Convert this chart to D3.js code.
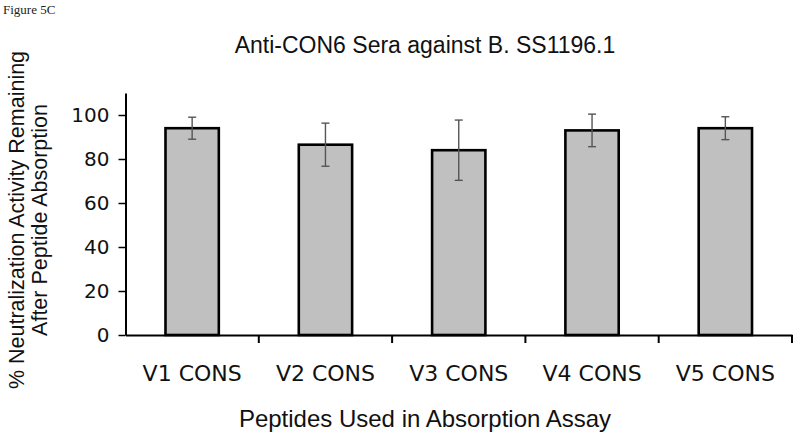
<!DOCTYPE html>
<html>
<head>
<meta charset="utf-8">
<script src="https://cdn.jsdelivr.net/npm/d3@7"></script>
<style>
  html, body { margin: 0; padding: 0; background: #fff; }
  svg { display: block; }
</style>
</head>
<body>
<svg id="chart" width="800" height="438"></svg>
<script>
// ---- data ----
const categories = ["V1 CONS", "V2 CONS", "V3 CONS", "V4 CONS", "V5 CONS"];
const values = [94, 86.5, 84, 93, 94];
const errors = [5, 9.8, 13.7, 7.4, 5.2];
const yTicks = [0, 20, 40, 60, 80, 100];
const titleText = "Anti-CON6 Sera against B. SS1196.1";
const xTitleText = "Peptides Used in Absorption Assay";
const yTitleLines = ["% Neutralization Activity Remaining", "After Peptide Absorption"];
const figLabel = "Figure 5C";

// ---- layout ----
const svg = d3.select("#chart");
const mLeft = 125.5, mRight = 792, mTop = 93, mBottom = 335;

const x = d3.scaleBand().domain(categories).range([mLeft, mRight])
  .paddingInner(0.6).paddingOuter(0.3);
const y = d3.scaleLinear().domain([0, 110]).range([mBottom, mTop]);

// figure label
svg.append("text").attr("x", 3).attr("y", 14)
  .attr("font-family", "Liberation Serif, Times New Roman, serif")
  .attr("font-size", 13).attr("fill", "#222").text(figLabel);

// title
svg.append("text").attr("x", 425).attr("y", 53).attr("text-anchor", "middle")
  .attr("font-family", "Liberation Sans, Arial, sans-serif")
  .attr("font-size", 23).attr("fill", "#111").text(titleText);

// bars
svg.append("g").selectAll("rect").data(categories).join("rect")
  .attr("x", d => x(d))
  .attr("y", (d, i) => y(values[i]))
  .attr("width", x.bandwidth())
  .attr("height", (d, i) => y(0) - y(values[i]))
  .attr("fill", "#c0c0c0")
  .attr("stroke", "#000")
  .attr("stroke-width", 2.6);

// error bars
const eg = svg.append("g").attr("stroke", "#555").attr("stroke-width", 1.4).attr("fill", "none");
categories.forEach((c, i) => {
  const cx = x(c) + x.bandwidth() / 2;
  const hi = y(values[i] + errors[i]), lo = y(values[i] - errors[i]);
  eg.append("line").attr("x1", cx).attr("x2", cx).attr("y1", hi).attr("y2", lo);
  eg.append("line").attr("x1", cx - 4).attr("x2", cx + 4).attr("y1", hi).attr("y2", hi);
  eg.append("line").attr("x1", cx - 4).attr("x2", cx + 4).attr("y1", lo).attr("y2", lo);
});

// y axis
const yAxis = d3.axisLeft(y).tickValues(yTicks).tickSizeInner(7).tickSizeOuter(0).tickPadding(9);
const yg = svg.append("g").attr("transform", `translate(${mLeft},0)`).call(yAxis);
yg.select(".domain").attr("stroke", "#000").attr("stroke-width", 2);
yg.selectAll(".tick line").attr("stroke", "#000").attr("stroke-width", 1.5);
yg.selectAll(".tick text").attr("font-family", "DejaVu Sans, Verdana, sans-serif")
  .attr("font-size", 20).attr("fill", "#111");

// x axis
const xAxis = d3.axisBottom(x).tickSize(0).tickPadding(30);
const xg = svg.append("g").attr("transform", `translate(0,${mBottom})`).call(xAxis);
xg.select(".domain").attr("stroke", "#000").attr("stroke-width", 2);
xg.selectAll(".tick text").attr("font-family", "DejaVu Sans, Verdana, sans-serif")
  .attr("font-size", 22).attr("fill", "#111");
// category boundary ticks
const step = x.step();
const bounds = d3.range(1, categories.length + 1).map(k => mLeft + k * step);
xg.selectAll(".bnd").data(bounds).join("line").attr("class", "bnd")
  .attr("x1", d => d).attr("x2", d => d).attr("y1", 0).attr("y2", 8)
  .attr("stroke", "#000").attr("stroke-width", 2);

// x title
svg.append("text").attr("x", 425).attr("y", 427).attr("text-anchor", "middle")
  .attr("font-family", "Liberation Sans, Arial, sans-serif")
  .attr("font-size", 24).attr("fill", "#111").text(xTitleText);

// y title
const yt = svg.append("text").attr("transform", "translate(0,220) rotate(-90)")
  .attr("text-anchor", "middle")
  .attr("font-family", "Liberation Sans, Arial, sans-serif")
  .attr("font-size", 21.5).attr("fill", "#111");
yTitleLines.forEach((t, i) => {
  yt.append("tspan").attr("x", 0).attr("y", 24 + i * 23).text(t);
});
</script>
</body>
</html>
